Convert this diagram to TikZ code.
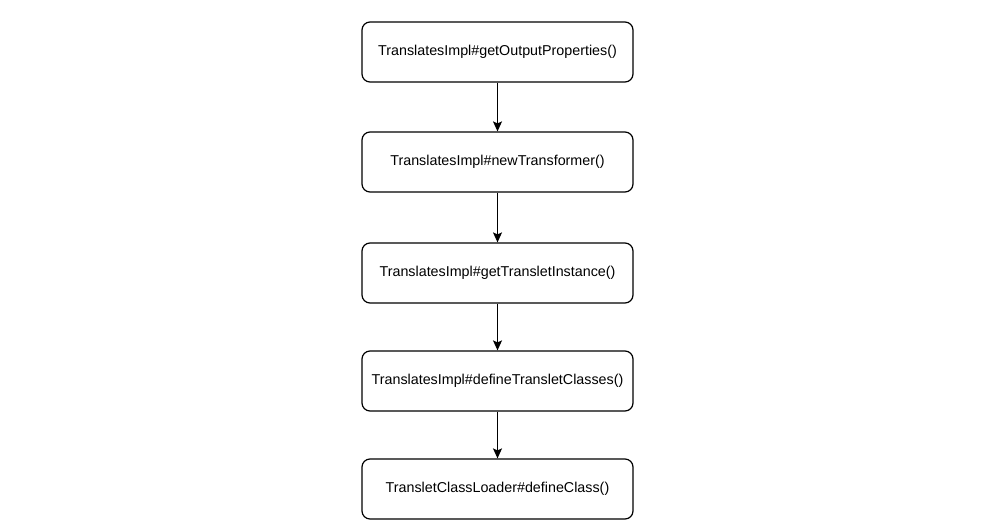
\documentclass[tikz,border=0pt]{standalone}
\usepackage{fontspec}
\setmainfont{Liberation Sans}
\usetikzlibrary{arrows.meta}
\begin{document}
\begin{tikzpicture}[x=1pt,y=-1pt,
  stepbox/.style={draw, line width=1.2pt, rounded corners=8pt, minimum width=271pt, minimum height=60pt, inner sep=0pt, font=\fontsize{14.3}{16}\selectfont},
  conn/.style={draw, line width=1.2pt, -{Stealth[length=10pt,width=9pt,inset=2pt]}}]
\useasboundingbox (0,0) rectangle (1001,532);
\node[stepbox] (a) at (497.5,52) {TranslatesImpl\#getOutputProperties()};
\node[stepbox] (b) at (497.5,162) {TranslatesImpl\#newTransformer()};
\node[stepbox] (c) at (497.5,273) {TranslatesImpl\#getTransletInstance()};
\node[stepbox] (d) at (497.5,381) {TranslatesImpl\#defineTransletClasses()};
\node[stepbox] (e) at (497.5,489) {TransletClassLoader\#defineClass()};
\draw[conn] (a) -- (b);
\draw[conn] (b) -- (c);
\draw[conn] (c) -- (d);
\draw[conn] (d) -- (e);
\end{tikzpicture}
\end{document}
